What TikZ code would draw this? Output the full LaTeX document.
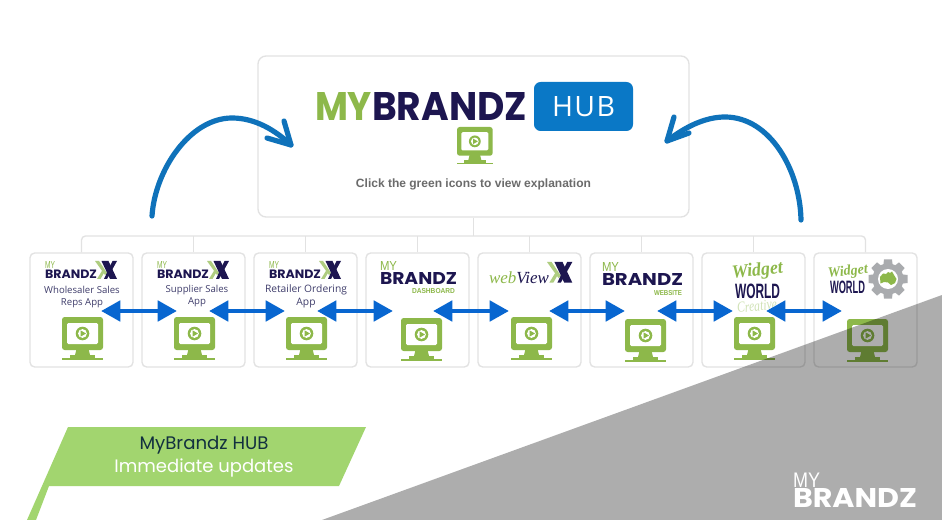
\documentclass[tikz,border=0pt]{standalone}
\usepackage{fontspec}
\usepackage{graphicx}
\setmainfont{Open Sans}
\newfontfamily\lib{Liberation Sans}
\newfontfamily\pop{Poppins}
\newfontfamily\ser{Liberation Serif}
\usetikzlibrary{arrows.meta}
\newdimen\pxu \pxu=0.75pt
\newcommand\fitbox[3]{\resizebox{#1\pxu}{#2\pxu}{#3}}
\newcommand\fitw[2]{\resizebox{#1\pxu}{!}{#2}}
\newcommand\bb[1]{{\lib\bfseries #1}}
\newcommand\hv[1]{{\pop\bfseries #1}}
\newcommand\rr[1]{{\lib #1}}
\definecolor{lgreen}{HTML}{8DB84A}
\definecolor{navy}{HTML}{1D1650}
\definecolor{hubblue}{HTML}{0A78C6}
\definecolor{curveblue}{HTML}{0F72BA}
\definecolor{arrowblue}{HTML}{0866D0}
\definecolor{edge}{HTML}{E2E2E2}
\definecolor{labelgreen}{HTML}{A2D56F}
\definecolor{apptext}{HTML}{3F3D6B}
\definecolor{gearg}{HTML}{A9ABAE}
\definecolor{labeltext}{HTML}{12303F}
\tikzset{
  card/.style={draw=edge,line width=1pt,fill=white,rounded corners=3.5pt,minimum width=77.25pt,minimum height=85.5pt,inner sep=0pt},
  conn/.style={draw=edge,line width=1pt,rounded corners=3pt},
  txt/.style={inner sep=0pt,outer sep=0pt},
  twoway/.style={draw=arrowblue,line width=3.6pt,{Triangle[length=14.5pt,width=15pt]}-{Triangle[length=14.5pt,width=15pt]}},
  curve/.style={draw=curveblue,line width=3.9pt,line cap=round,line join=round},
  applabel/.style={txt,align=center,text=apptext,font=\fontsize{7.2pt}{9pt}\selectfont},
  monitor/.pic={
    \fill[lgreen,rounded corners=2pt] (0,0) rectangle (41,33);
    \fill[lgreen] (14.5,32) -- (26.5,32) -- (28,38) -- (13,38) -- cycle;
    \fill[lgreen] (8,37.5) rectangle (33,41.5);
    \fill[lgreen] (0,41) rectangle (41,43);
    \fill[white,rounded corners=1pt] (5,6) rectangle (36,27);
    \fill[lgreen] (20.5,16.5) circle (6.8);
    \fill[white] (20.5,16.5) circle (4.4);
    \fill[lgreen] (18.6,13.4) -- (18.6,19.6) -- (24,16.5) -- cycle;
  },
  xmark/.pic={
    \fill[lgreen!70] (0,0) -- (4,0) -- (12,12) -- (10,14) -- cycle;
    \fill[lgreen!70] (2,18) -- (5.5,18) -- (9.5,11) -- (7.5,9) -- cycle;
    \fill[navy] (6.5,0) -- (13.5,0) -- (22,18) -- (15,18) -- cycle;
    \fill[navy] (22,0) -- (17.5,0) -- (9,18) -- (12,18) -- cycle;
  },
  brandzx/.pic={
    \node[txt,anchor=north west,text=lgreen] (-my) at (0,1) {\fitbox{10}{7}{\rr{MY}}};
    \node[txt,anchor=north west,text=navy] (-br) at (0,9) {\fitbox{52}{8.5}{\hv{BRANDZ}}};
    \pic at (50,0) {xmark};
  },
  mybr/.pic={
    \node[txt,anchor=north west,text=lgreen] (-my) at (0,0) {\fitbox{17}{9}{\rr{MY}}};
    \node[txt,anchor=north west,text=navy] (-br) at (0,10) {\fitbox{#1}{12}{\hv{BRANDZ}}};
  }
}
\begin{document}
\begin{tikzpicture}[x=0.75pt,y=-0.75pt]
\useasboundingbox (0,0) rectangle (942,520);
\fill[white] (0,0) rectangle (942,520);

% hub
\node[card,rounded corners=6pt,minimum width=323.25pt,minimum height=120.75pt] (hub) at (473.5,136.5) {};
% cards
\foreach \i/\x in {1/81.5,2/193.5,3/305.5,4/417.5,5/529.5,6/641.5,7/753.5,8/865.5}
  \node[card] (box\i) at (\x,310) {};
\coordinate (bus) at (473.5,236);
\draw[conn] (hub.south) -- (bus);
\draw[conn] (box1.north) |- (bus) -| (box8.north);
\foreach \i in {2,...,7} \draw[conn,rounded corners=0pt] (box\i.north) -- (box\i.north |- bus);

% hub logo
\node[txt,anchor=north west,text=lgreen] (hubmy) at (315,93) {\fitbox{57}{28}{\hv{MY}}};
\node[txt,anchor=north west,text=navy] (hubbrand) at (372,93) {\fitbox{155}{28}{\hv{BRANDZ}}};
\node[fill=hubblue,rounded corners=5pt,minimum width=74.25pt,minimum height=36.75pt,inner sep=0pt] (hubtag) at (583.5,106.5) {};
\node[txt,text=white] (hubtxt) at (hubtag) {\fitbox{63}{20}{\addfontfeature{LetterSpace=5}HUB}};
\pic[scale=0.87] at (457,127) {monitor};
\node[txt,text=black!58] (hint) at (473.5,184) {\fitw{235}{\bb{Click the green icons to view explanation}}};

% curved arrows
\coordinate (ls) at (152,216);
\coordinate (lt) at (291,145);
\coordinate (rs) at (801,220);
\coordinate (rt) at (667,141);
\draw[curve] (ls) .. controls (155,170) and (190,118) .. (232,118) .. controls (255,118) and (275,130) .. (lt);
\draw[curve] (284,121) -- (lt) -- (267,138);
\draw[curve] (rs) .. controls (800,170) and (770,117) .. (725,117) .. controls (705,117) and (685,127) .. (rt);
\draw[curve] (674,117) -- (rt) -- (689,133);

% logos
\pic (lg1) at (45,261) {brandzx};
\pic (lg2) at (157,261) {brandzx};
\pic (lg3) at (269,261) {brandzx};
\node[applabel] (t1) at (82,297.5) {Wholesaler Sales\\Reps App};
\node[applabel] (t2) at (197,296) {Supplier Sales\\App};
\node[applabel,font=\fontsize{7.7pt}{9.5pt}\selectfont] (t3) at (306,296.5) {Retailer Ordering\\App};

\pic (lg4) at (380,262) {mybr=77};
\node[txt,anchor=north east,text=lgreen] (dash) at (455,288.5) {\fitbox{43}{5}{\bb{DASHBOARD}}};

\node[txt,anchor=base west] (wv) at (489,283) {\fitw{60}{\ser\itshape\textcolor{lgreen}{web}\textcolor{navy}{View}}};
\pic[scale=1.15] at (547,262) {xmark};

\pic (lg6) at (602,263) {mybr=81};
\node[txt,anchor=north east,text=lgreen] (web) at (682,291) {\fitbox{28}{5}{\bb{WEBSITE}}};

\node[txt,rotate=6,text=lgreen] (w7) at (757.5,271) {\fitbox{51}{13}{\ser\bfseries\itshape Widget}};
\node[txt,anchor=north west,text=navy] (wd7) at (735,284) {\fitbox{45}{14.5}{\bb{WORLD}}};
\node[txt,rotate=6,text=lgreen!40] (c7) at (757,306) {\fitbox{40}{10}{\ser\itshape Creative}};

\node[txt,rotate=6,text=lgreen] (w8) at (848,272) {\fitbox{40}{10}{\ser\bfseries\itshape Widget}};
\node[txt,anchor=north west,text=navy] (wd8) at (830,281) {\fitbox{35}{12.5}{\bb{WORLD}}};
% gear
\foreach \a in {0,45,...,315}
  \fill[gearg,rotate around={\a:(888,279)}] (884,259.5) -- (892,259.5) -- (893,268) -- (883,268) -- cycle;
\fill[gearg] (888,279) circle (15.5);
\fill[white] (888,279) circle (10);
\fill[lgreen] (880,277) -- (883,273.5) -- (886,274) -- (888,272) -- (890,273) -- (892,271.5) -- (894,275) -- (896.5,279) -- (895,283) -- (891,285) -- (888,282.5) -- (884,282) -- (880.5,283.5) -- cycle;

% icons
\foreach \x/\y in {62/317,174/317,286/317,401/318,511/317,625/319,734/317,847/319}
  \pic at (\x,\y) {monitor};

% double arrows
\foreach \n/\a/\b in {1/101/177,2/209/285,3/317/393,4/433/509,5/549/625,6/657/733,7/766/842}{
  \coordinate (al\n) at (\a,311);
  \coordinate (ar\n) at (\b,311);
  \draw[twoway] (al\n) -- (ar\n);
}

% grey overlay
\fill[black,opacity=0.32] (322,520) -- (942,295) -- (942,520) -- cycle;

% corner logo
\node[txt,anchor=north west,text=white] (cmy) at (793,472.5) {\fitbox{27}{14.5}{\rr{MY}}};
\node[txt,anchor=north west,text=white] (cbr) at (793,488) {\fitbox{124}{19}{\hv{BRANDZ}}};

% label
\fill[labelgreen] (68,427) -- (366,427) -- (339,486) -- (49,486) -- (36,520) -- (27,520) -- cycle;
\node[txt,text=labeltext] (lab1) at (204,445) {\fitw{129}{\pop MyBrandz HUB}};
\node[txt,text=white] (lab2) at (204,468) {\fitw{179}{\pop Immediate updates}};
\end{tikzpicture}
\end{document}
